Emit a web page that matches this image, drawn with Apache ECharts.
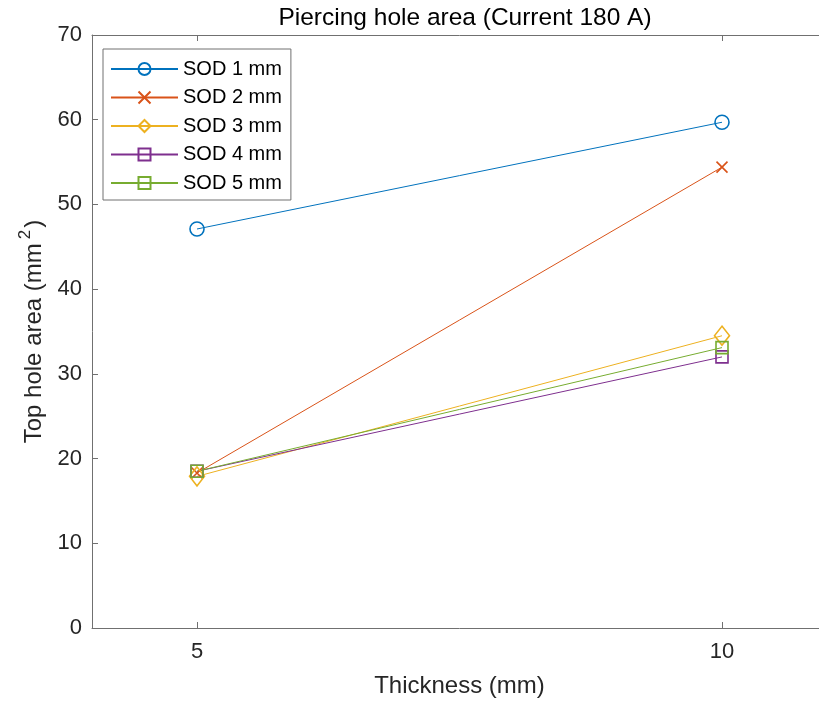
<!DOCTYPE html>
<html><head><meta charset="utf-8">
<script src="https://cdn.jsdelivr.net/npm/echarts@6/dist/echarts.min.js"></script>
<style>html,body{margin:0;padding:0;overflow:hidden;background:#fff}#c{width:830px;height:703px}</style>
</head><body><div id="c"></div>
<script>
const thickness = [5, 10];
const seriesNames = ['SOD 1 mm', 'SOD 2 mm', 'SOD 3 mm', 'SOD 4 mm', 'SOD 5 mm'];
const sod1 = [47.1, 59.7];
const sod2 = [18.3, 54.4];
const sod3 = [17.9, 34.5];
const sod4 = [18.5, 32.0];
const sod5 = [18.5, 33.1];
const xTicks = [5, 10];

const colors = ['#0072BD', '#D95319', '#EDB120', '#7E2F8E', '#77AC30'];
const symbols = ['circle', 'path://M0,0L10,10M10,0L0,10', 'diamond', 'rect', 'rect'];
const sizes = [14, 11, [15, 19], 12, 12];
const allData = [sod1, sod2, sod3, sod4, sod5];
const axisColor = '#707070';
const textColor = '#262626';
const font = 'Arial, "Liberation Sans", Helvetica, sans-serif';

const chart = echarts.init(document.getElementById('c'));
chart.setOption({
  animation: false,
  textStyle: {fontFamily: font},
  title: {
    text: 'Piercing hole area (Current 180 A)',
    left: 460, top: 1, textAlign: 'center',
    textStyle: {fontSize: 24.5, fontWeight: 'normal', color: '#000', fontFamily: font}
  },
  legend: {
    orient: 'vertical', left: 103, top: 49,
    backgroundColor: '#fff', borderColor: axisColor, borderWidth: 1,
    padding: [9, 9, 6, 7], itemGap: 6.5, itemWidth: 67, itemHeight: 15,
    textStyle: {fontSize: 20, color: '#000', lineHeight: 22, fontFamily: font, padding: [0, 0, 0, 0]},
    data: seriesNames
  },
  grid: {left: 92, top: 35, width: 735, height: 595, containLabel: false},
  xAxis: [{
    type: 'value', min: 4, max: 11, position: 'bottom',
    name: 'Thickness (mm)', nameLocation: 'middle', nameGap: 46,
    nameTextStyle: {fontSize: 24, color: textColor, fontFamily: font},
    axisLine: {show: true, lineStyle: {color: axisColor, width: 1}},
    axisTick: {show: true, inside: true, length: 6, customValues: xTicks, lineStyle: {color: axisColor}},
    axisLabel: {show: true, customValues: xTicks, fontSize: 22, color: textColor, margin: 13, fontFamily: font},
    splitLine: {show: false}
  }, {
    type: 'value', min: 4, max: 11, position: 'top',
    axisLine: {show: true, lineStyle: {color: axisColor, width: 1}},
    axisTick: {show: true, inside: true, length: 6, customValues: xTicks, lineStyle: {color: axisColor}},
    axisLabel: {show: false},
    splitLine: {show: false}
  }],
  yAxis: {
    type: 'value', min: 0, max: 70, interval: 10,
    name: '{t|Top hole area (mm}{sup|2}{t|)}', nameLocation: 'middle', nameGap: 36,
    nameTextStyle: {
      fontSize: 24, color: textColor, fontFamily: font,
      rich: {
        t: {fontSize: 24, color: textColor, fontFamily: font, lineHeight: 30, verticalAlign: 'bottom'},
        sup: {fontSize: 17, color: textColor, fontFamily: font, lineHeight: 30, verticalAlign: 'top', padding: [0, 2, 0, 4]}
      }
    },
    axisLine: {show: true, lineStyle: {color: axisColor, width: 1}},
    axisTick: {show: true, inside: true, length: 6, lineStyle: {color: axisColor}},
    axisLabel: {fontSize: 22, color: textColor, margin: 10, fontFamily: font},
    splitLine: {show: false}
  },
  series: allData.map((d, i) => ({
    name: seriesNames[i], type: 'line',
    data: thickness.map((t, j) => [t, d[j]]),
    symbol: symbols[i], symbolSize: sizes[i],
    showSymbol: true,
    lineStyle: {color: colors[i], width: 1},
    itemStyle: {color: 'rgba(255,255,255,0)', borderColor: colors[i], borderWidth: 1.6},
    emphasis: {disabled: true}
  }))
});
</script></body></html>
